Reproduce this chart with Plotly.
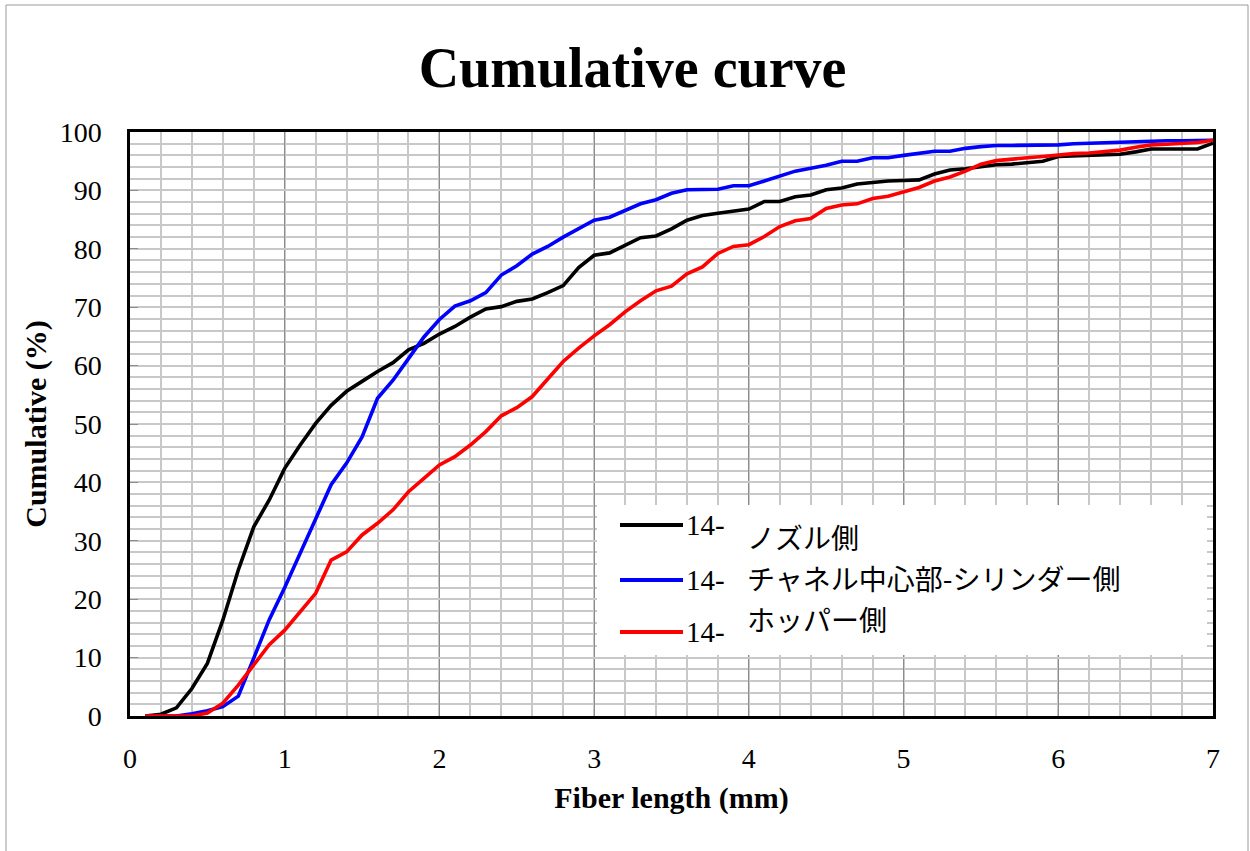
import plotly.graph_objects as go

# ---------------- data ----------------
fiber_length = [0.1, 0.2, 0.3, 0.4, 0.5, 0.6, 0.7, 0.8, 0.9, 1.0,
                1.1, 1.2, 1.3, 1.4, 1.5, 1.6, 1.7, 1.8, 1.9, 2.0,
                2.1, 2.2, 2.3, 2.4, 2.5, 2.6, 2.7, 2.8, 2.9, 3.0,
                3.1, 3.2, 3.3, 3.4, 3.5, 3.6, 3.7, 3.8, 3.9, 4.0,
                4.1, 4.2, 4.3, 4.4, 4.5, 4.6, 4.7, 4.8, 4.9, 5.0,
                5.1, 5.2, 5.3, 5.4, 5.5, 5.6, 5.7, 5.8, 5.9, 6.0,
                6.1, 6.2, 6.3, 6.4, 6.5, 6.6, 6.7, 6.8, 6.9, 7.0]

nozzle = [0.0, 0.3, 1.4, 4.7, 9.0, 16.4, 25.0, 32.4, 37.0, 42.4,
          46.4, 50.1, 53.2, 55.6, 57.3, 59.0, 60.5, 62.7, 63.8, 65.4,
          66.7, 68.3, 69.7, 70.1, 71.0, 71.4, 72.5, 73.7, 76.8, 78.9,
          79.3, 80.6, 81.9, 82.2, 83.4, 84.9, 85.7, 86.1, 86.4, 86.8,
          88.1, 88.1, 88.9, 89.2, 90.1, 90.4, 91.1, 91.4, 91.6, 91.7,
          91.8, 92.8, 93.5, 93.7, 94.1, 94.4, 94.5, 94.7, 95.0, 95.8,
          95.9, 95.9, 96.1, 96.2, 96.6, 97.1, 97.1, 97.1, 97.1, 98.1]

channel = [0.0, 0.0, 0.0, 0.4, 0.9, 1.6, 3.4, 9.9, 16.5, 22.0,
           27.9, 33.6, 39.6, 43.3, 47.8, 54.4, 57.5, 61.2, 64.9, 67.9,
           70.2, 71.1, 72.5, 75.5, 77.1, 79.1, 80.4, 82.0, 83.5, 84.9,
           85.4, 86.6, 87.7, 88.4, 89.5, 90.1, 90.2, 90.2, 90.8, 90.8,
           91.6, 92.5, 93.3, 93.8, 94.3, 95.0, 95.0, 95.6, 95.6, 96.0,
           96.4, 96.7, 96.7, 97.2, 97.5, 97.7, 97.7, 97.7, 97.7, 97.8,
           98.0, 98.1, 98.2, 98.2, 98.3, 98.5, 98.5, 98.5, 98.5, 98.6]

hopper = [0.0, 0.0, 0.0, 0.0, 0.5, 2.2, 5.3, 8.7, 12.2, 14.7,
          17.9, 21.0, 26.7, 28.1, 31.0, 33.0, 35.3, 38.4, 40.7, 43.0,
          44.4, 46.4, 48.7, 51.4, 52.8, 54.7, 57.7, 60.7, 63.0, 65.1,
          67.0, 69.2, 71.1, 72.8, 73.6, 75.7, 76.9, 79.2, 80.4, 80.7,
          82.1, 83.8, 84.8, 85.2, 86.9, 87.5, 87.7, 88.6, 89.0, 89.7,
          90.5, 91.6, 92.3, 93.3, 94.5, 95.1, 95.4, 95.6, 95.8, 96.1,
          96.3, 96.4, 96.6, 96.9, 97.4, 97.8, 97.9, 98.1, 98.2, 98.6]

series_prefix = "14-"
series_labels = ["ノズル側", "チャネル中心部-シリンダー側", "ホッパー側"]
series_values = [nozzle, channel, hopper]
series_colors = ["#000000", "#0000FF", "#FF0000"]

x_ticks = [0, 1, 2, 3, 4, 5, 6, 7]
y_ticks = [0, 10, 20, 30, 40, 50, 60, 70, 80, 90, 100]

# ---------------- layout helpers ----------------
W, H = 1250, 851
L, R, T, B = 130, 37, 132, 135
PW, PH = W - L - R, H - T - B


def pxx(p):
    return (p - L) / PW


def pxy(p):
    return (H - B - p) / PH


SERIF = "Liberation Serif, Times New Roman, serif"
JP = "Noto Sans CJK JP, sans-serif"

fig = go.Figure()
for lab, vals, col in zip(series_labels, series_values, series_colors):
    fig.add_trace(go.Scatter(
        x=fiber_length, y=vals, mode="lines", name=series_prefix + lab,
        line=dict(color=col, width=3.6), showlegend=False,
    ))

fig.update_layout(
    width=W, height=H, autosize=False,
    margin=dict(l=L, r=R, t=T, b=B),
    paper_bgcolor="white", plot_bgcolor="white",
    title=dict(text="<b>Cumulative curve</b>", x=0.506, xref="container",
               y=1 - 67 / H, yref="container", xanchor="center", yanchor="middle",
               font=dict(family=SERIF, size=56, color="black")),
    showlegend=False,
)

fig.update_xaxes(
    range=[0, 7], tickvals=x_ticks, ticktext=[str(v) for v in x_ticks],
    showgrid=True, gridcolor="#8c8c8c", gridwidth=1.2,
    minor=dict(dtick=0.2, showgrid=True, gridcolor="#c8c8c8", gridwidth=1.5),
    showline=True, linecolor="black", linewidth=2.5, mirror=True,
    zeroline=False, ticks="", ticklabelstandoff=16,
    tickfont=dict(family=SERIF, size=28, color="black"),
    title=dict(text="<b>Fiber length (mm)</b>", standoff=14,
               font=dict(family=SERIF, size=30, color="black")),
)
fig.update_yaxes(
    range=[0, 100], tickvals=y_ticks, ticktext=[str(v) for v in y_ticks],
    showgrid=True, gridcolor="#c8c8c8", gridwidth=1.5,
    minor=dict(dtick=2, showgrid=True, gridcolor="#c8c8c8", gridwidth=1.5),
    showline=True, linecolor="black", linewidth=2.5, mirror=True,
    zeroline=False, ticks="inside", ticklen=8, tickcolor="#8c8c8c", tickwidth=1.2,
    ticklabelstandoff=20,
    tickfont=dict(family=SERIF, size=28, color="black"),
    title=dict(text="<b>Cumulative (%)</b>", standoff=5,
               font=dict(family=SERIF, size=30, color="black")),
)

# outer chart border
fig.add_shape(type="rect", xref="paper", yref="paper",
              x0=pxx(6), x1=pxx(1248), y0=pxy(860), y1=pxy(5),
              line=dict(color="#9a9a9a", width=1), fillcolor="rgba(0,0,0,0)",
              layer="below")

# legend box (white, covering gridlines)
fig.add_shape(type="rect", xref="paper", yref="paper",
              x0=pxx(597), x1=pxx(1207), y0=pxy(655), y1=pxy(505),
              line=dict(width=0), fillcolor="white", layer="above")

key_y = [525, 580, 632]
label_y = [537, 578, 619]
for lab, col, ky, ly in zip(series_labels, series_colors, key_y, label_y):
    fig.add_shape(type="line", xref="paper", yref="paper",
                  x0=pxx(620), x1=pxx(683), y0=pxy(ky), y1=pxy(ky),
                  line=dict(color=col, width=4), layer="above")
    fig.add_annotation(xref="paper", yref="paper", x=pxx(684), y=pxy(ky),
                       xanchor="left", yanchor="middle", showarrow=False,
                       text=series_prefix,
                       font=dict(family=SERIF, size=29, color="black"))
    fig.add_annotation(xref="paper", yref="paper", x=pxx(746), y=pxy(ly),
                       xanchor="left", yanchor="middle", showarrow=False,
                       text=lab, borderpad=0,
                       font=dict(family=JP, size=28, color="black"))

fig.write_html("out.html")
